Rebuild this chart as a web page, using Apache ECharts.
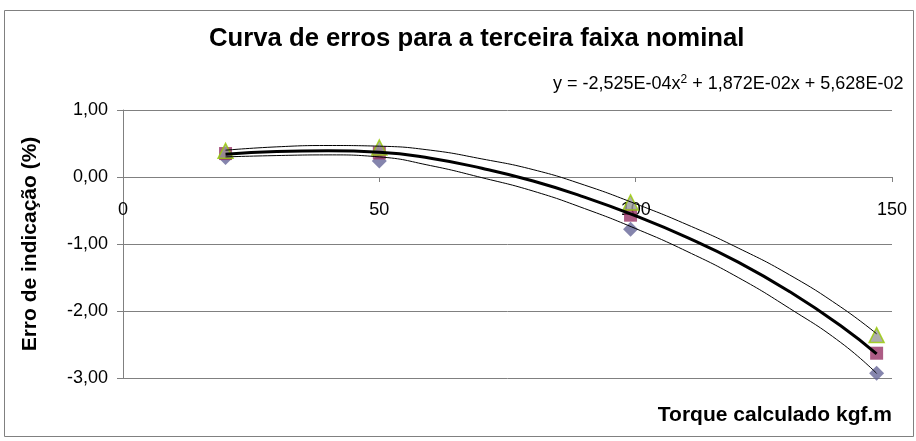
<!DOCTYPE html>
<html>
<head>
<meta charset="utf-8">
<script src="https://cdn.jsdelivr.net/npm/echarts@6/dist/echarts.min.js"></script>
<style>
  html, body { margin: 0; padding: 0; background: #fff; }
  #chart { width: 916px; height: 441px; }
</style>
</head>
<body>
<div id="chart"></div>
<script>
// pontos medidos (torque calculado, kgf.m)
var torque = [20, 50, 99, 147];
var erroTriangulo = [0.39, 0.44, -0.38, -2.36];
var erroQuadrado = [0.35, 0.36, -0.57, -2.63];
var erroLosango = [0.29, 0.24, -0.78, -2.93];

// curvas
var curvaX = [20, 30, 40, 50, 60, 70, 80, 90, 100, 110, 120, 130, 140, 147];
var curvaMedia = [0.34, 0.38, 0.39, 0.37, 0.28, 0.13, -0.06, -0.30, -0.58, -0.90, -1.27, -1.71, -2.22, -2.64];
var curvaSup = [0.40, 0.45, 0.47, 0.46, 0.40, 0.27, 0.11, -0.12, -0.40, -0.71, -1.06, -1.46, -1.94, -2.34];
var curvaInf = [0.30, 0.32, 0.33, 0.30, 0.17, -0.01, -0.21, -0.47, -0.77, -1.11, -1.50, -1.96, -2.47, -2.93];

var titulo = 'Curva de erros para a terceira faixa nominal';
var equacao = 'y = -2,525E-04x{sup|2} + 1,872E-02x + 5,628E-02';

function pares(xs, ys) {
  var out = [];
  for (var i = 0; i < xs.length; i++) {
    out.push([xs[i], ys[i]]);
  }
  return out;
}

var fonte = '"Liberation Sans", Arial, sans-serif';

var chart = echarts.init(document.getElementById('chart'));
chart.setOption({
  animation: false,
  backgroundColor: '#fff',
  title: {
    text: titulo,
    left: 204,
    top: 21,
    textStyle: { fontFamily: fonte, fontSize: 25.7, fontWeight: 'bold', color: '#000' }
  },
  grid: { left: 123, right: 24, top: 110, bottom: 63 },
  xAxis: {
    type: 'value',
    min: 0,
    max: 150,
    interval: 50,
    offset: -201, // eixo x passa pelo zero do eixo y
    axisLine: { onZero: false, lineStyle: { color: '#808080', width: 1 } },
    axisTick: { show: true, length: 5, lineStyle: { color: '#808080' } },
    axisLabel: { fontFamily: fonte, fontSize: 18, color: '#000', margin: 24 },
    splitLine: { show: false }
  },
  yAxis: {
    type: 'value',
    min: -3,
    max: 1,
    interval: 1,
    name: 'Erro de indicação (%)',
    nameLocation: 'middle',
    nameGap: 82,
    nameTextStyle: { fontFamily: fonte, fontSize: 21, fontWeight: 'bold', color: '#000' },
    axisLine: { show: true, lineStyle: { color: '#808080', width: 1 } },
    axisTick: { show: true, length: 6, lineStyle: { color: '#808080' } },
    axisLabel: {
      fontFamily: fonte, fontSize: 18, color: '#000', margin: 15,
      formatter: function (v) { return v.toFixed(2).replace('.', ','); }
    },
    splitLine: { show: true, lineStyle: { color: '#808080', width: 1 } }
  },
  graphic: [
    {
      type: 'rect',
      shape: { x: 4.5, y: 10.5, width: 909, height: 426 },
      style: { fill: 'none', stroke: '#808080', lineWidth: 1 },
      z: -10
    },
    {
      type: 'text',
      left: 553,
      top: 74,
      style: {
        text: equacao,
        font: '18px ' + fonte,
        fill: '#000',
        rich: {
          sup: { fontSize: 12, fontFamily: fonte, padding: [0, 0, 9, 0], fill: '#000' }
        }
      }
    },
    {
      type: 'text',
      right: 24,
      top: 405,
      style: {
        text: 'Torque calculado kgf.m',
        font: 'bold 21px ' + fonte,
        fill: '#000'
      }
    }
  ],
  series: [
    {
      type: 'scatter',
      data: pares(torque, erroLosango),
      symbol: 'diamond',
      symbolSize: 15,
      itemStyle: { color: '#666699' }
    },
    {
      type: 'scatter',
      data: pares(torque, erroQuadrado),
      symbol: 'rect',
      symbolSize: 13,
      itemStyle: { color: '#993366' }
    },
    {
      type: 'scatter',
      data: pares(torque, erroTriangulo),
      symbol: 'triangle',
      symbolSize: 15,
      itemStyle: { color: '#999999', borderColor: '#99cc00', borderWidth: 1.5 }
    },
    {
      type: 'line',
      data: pares(curvaX, curvaSup),
      smooth: true,
      showSymbol: false,
      lineStyle: { color: '#000', width: 1 }
    },
    {
      type: 'line',
      data: pares(curvaX, curvaInf),
      smooth: true,
      showSymbol: false,
      lineStyle: { color: '#000', width: 1 }
    },
    {
      type: 'line',
      data: pares(curvaX, curvaMedia),
      smooth: true,
      showSymbol: false,
      lineStyle: { color: '#000', width: 3 }
    }
  ]
});
</script>
</body>
</html>
